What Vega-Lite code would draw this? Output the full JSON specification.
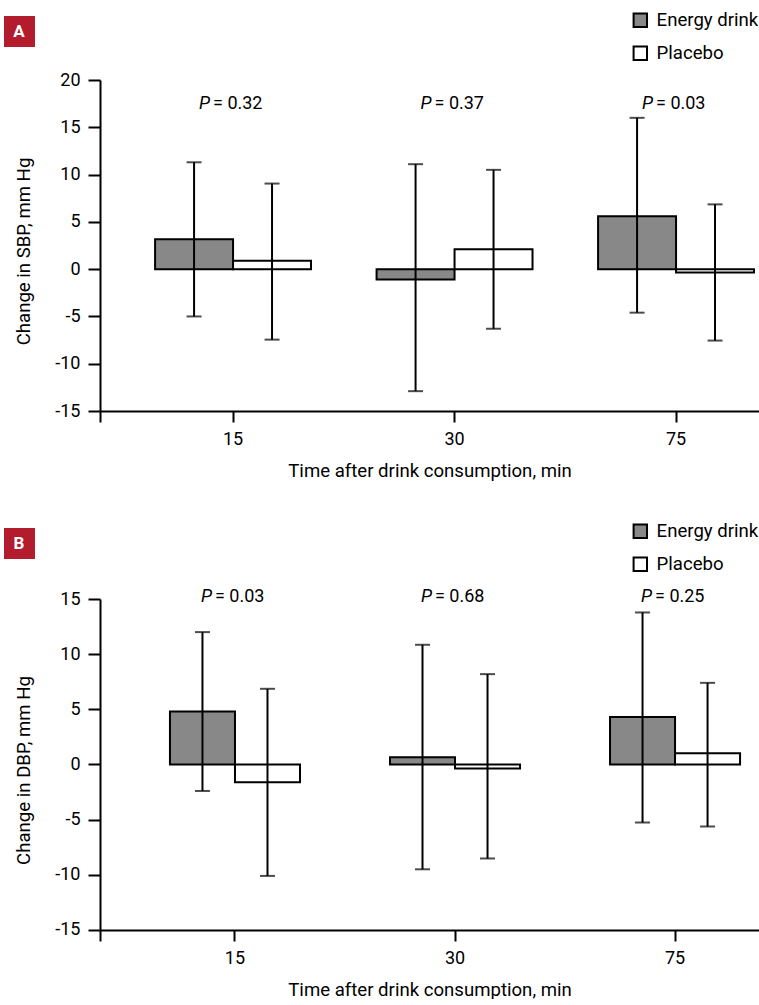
{
  "$schema": "https://vega.github.io/schema/vega-lite/v6.json",
  "padding": {"left": 4, "top": 11, "right": 0, "bottom": 0},
  "bounds": "flush",
  "spacing": 177,
  "datasets": {
    "sbp": [
      {"time": "15", "group": "Energy drink", "mean": 3.15, "lo": -5.0, "hi": 11.3},
      {"time": "15", "group": "Placebo", "mean": 0.88, "lo": -7.45, "hi": 9.05},
      {"time": "30", "group": "Energy drink", "mean": -1.1, "lo": -12.9, "hi": 11.1},
      {"time": "30", "group": "Placebo", "mean": 2.1, "lo": -6.3, "hi": 10.5},
      {"time": "75", "group": "Energy drink", "mean": 5.6, "lo": -4.6, "hi": 16.0},
      {"time": "75", "group": "Placebo", "mean": -0.35, "lo": -7.55, "hi": 6.85}
    ],
    "dbp": [
      {"time": "15", "group": "Energy drink", "mean": 4.8, "lo": -2.4, "hi": 12.0},
      {"time": "15", "group": "Placebo", "mean": -1.6, "lo": -10.1, "hi": 6.86},
      {"time": "30", "group": "Energy drink", "mean": 0.66, "lo": -9.5, "hi": 10.85},
      {"time": "30", "group": "Placebo", "mean": -0.36, "lo": -8.52, "hi": 8.19},
      {"time": "75", "group": "Energy drink", "mean": 4.3, "lo": -5.26, "hi": 13.78},
      {"time": "75", "group": "Placebo", "mean": 1.02, "lo": -5.62, "hi": 7.4}
    ],
    "pA": [
      {"time": "15", "label": "= 0.32"},
      {"time": "30", "label": "= 0.37"},
      {"time": "75", "label": "= 0.03"}
    ],
    "pB": [
      {"time": "15", "label": "= 0.03"},
      {"time": "30", "label": "= 0.68"},
      {"time": "75", "label": "= 0.25"}
    ]
  },
  "vconcat": [
    {
      "width": 659,
      "height": 342,
      "data": {"name": "sbp"},
      "encoding": {
        "x": {
          "field": "time", "type": "nominal", "sort": ["15", "30", "75"],
          "scale": {"paddingInner": 0.296, "paddingOuter": 0.1356, "align": 0.917},
          "axis": {"labelAngle": 0, "tickSize": 11, "labelPadding": 8, "titlePadding": 13, "offset": -11},
          "title": "Time after drink consumption, min"
        }
      },
      "layer": [
        {
          "mark": {"type": "bar", "stroke": "black", "strokeWidth": 2},
          "encoding": {
            "xOffset": {"field": "group", "type": "nominal", "scale": {"paddingInner": 0, "paddingOuter": 0}},
            "y": {"field": "mean", "type": "quantitative", "scale": {"domain": [-16.16, 20], "nice": false, "zero": false},
                  "axis": {"values": [-15, -10, -5, 0, 5, 10, 15, 20], "labelExpr": "'' + datum.value", "tickSize": 12, "labelPadding": 8, "titlePadding": 21},
                  "title": "Change in SBP, mm Hg"},
            "y2": {"datum": 0},
            "fill": {
              "field": "group", "type": "nominal",
              "scale": {"domain": ["Energy drink", "Placebo"], "range": ["#888888", "#ffffff"]},
              "legend": {
                "title": null, "orient": "none", "legendX": 531, "legendY": -69,
                "symbolType": "square", "symbolSize": 180, "symbolStrokeColor": "black", "symbolStrokeWidth": 2,
                "labelOffset": 7, "rowPadding": 10, "padding": 0,
                "encode": {"symbols": {"update": {"stroke": {"value": "black"}, "strokeWidth": {"value": 2}}}}
              }
            }
          }
        },
        {
          "mark": {"type": "rule", "strokeWidth": 2, "color": "black"},
          "encoding": {
            "xOffset": {"field": "group", "type": "nominal", "scale": {"paddingInner": 0, "paddingOuter": 0}},
            "y": {"field": "lo", "type": "quantitative", "scale": {"domain": [-16.16, 20], "nice": false, "zero": false}, "title": "Change in SBP, mm Hg"},
            "y2": {"field": "hi"}
          }
        },
        {
          "mark": {"type": "tick", "size": 15, "thickness": 2, "color": "black"},
          "encoding": {
            "xOffset": {"field": "group", "type": "nominal", "scale": {"paddingInner": 0, "paddingOuter": 0}},
            "y": {"field": "hi", "type": "quantitative", "scale": {"domain": [-16.16, 20], "nice": false, "zero": false}, "title": "Change in SBP, mm Hg"}
          }
        },
        {
          "mark": {"type": "tick", "size": 15, "thickness": 2, "color": "black"},
          "encoding": {
            "xOffset": {"field": "group", "type": "nominal", "scale": {"paddingInner": 0, "paddingOuter": 0}},
            "y": {"field": "lo", "type": "quantitative", "scale": {"domain": [-16.16, 20], "nice": false, "zero": false}, "title": "Change in SBP, mm Hg"}
          }
        },
        {
          "data": {"name": "pA"},
          "mark": {"type": "text", "text": "P", "fontStyle": "italic", "align": "right", "baseline": "middle", "dx": -23},
          "encoding": {
            "y": {"datum": 17.45, "type": "quantitative", "scale": {"domain": [-16.16, 20], "nice": false, "zero": false}, "title": "Change in SBP, mm Hg"}
          }
        },
        {
          "data": {"name": "pA"},
          "mark": {"type": "text", "align": "left", "baseline": "middle", "dx": -20},
          "encoding": {
            "text": {"field": "label"},
            "y": {"datum": 17.45, "type": "quantitative", "scale": {"domain": [-16.16, 20], "nice": false, "zero": false}, "title": "Change in SBP, mm Hg"}
          }
        },
        {
          "mark": {"type": "point", "filled": true, "color": "#B31C2C", "opacity": 0},
          "encoding": {
            "shape": {
              "datum": "A",
              "scale": {"range": ["square"]},
              "legend": {
                "title": null, "orient": "none", "legendX": -96, "legendY": -64,
                "symbolType": "square", "symbolSize": 961, "padding": 0,
                "symbolOpacity": 1, "symbolFillColor": "#B31C2C", "symbolStrokeColor": "#B31C2C", "symbolStrokeWidth": 0,
                "labelFontSize": 17, "labelFontWeight": "bold", "labelColor": "white",
                "labelAlign": "center", "labelOffset": -16
              }
            }
          }
        }
      ]
    },
    {
      "width": 659,
      "height": 342,
      "data": {"name": "dbp"},
      "encoding": {
        "x": {
          "field": "time", "type": "nominal", "sort": ["15", "30", "75"],
          "scale": {"paddingInner": 0.409, "paddingOuter": 0.202, "align": 0.787},
          "axis": {"labelAngle": 0, "tickSize": 11, "labelPadding": 8, "titlePadding": 13, "offset": -11},
          "title": "Time after drink consumption, min"
        }
      },
      "layer": [
        {
          "mark": {"type": "bar", "stroke": "black", "strokeWidth": 2},
          "encoding": {
            "xOffset": {"field": "group", "type": "nominal", "scale": {"paddingInner": 0, "paddingOuter": 0}},
            "y": {"field": "mean", "type": "quantitative", "scale": {"domain": [-16, 15], "nice": false, "zero": false},
                  "axis": {"values": [-15, -10, -5, 0, 5, 10, 15], "labelExpr": "'' + datum.value", "tickSize": 12, "labelPadding": 8, "titlePadding": 21},
                  "title": "Change in DBP, mm Hg"},
            "y2": {"datum": 0},
            "fill": {
              "field": "group", "type": "nominal",
              "scale": {"domain": ["Energy drink", "Placebo"], "range": ["#888888", "#ffffff"]},
              "legend": {
                "title": null, "orient": "none", "legendX": 531, "legendY": -77,
                "symbolType": "square", "symbolSize": 180, "symbolStrokeColor": "black", "symbolStrokeWidth": 2,
                "labelOffset": 7, "rowPadding": 10, "padding": 0,
                "encode": {"symbols": {"update": {"stroke": {"value": "black"}, "strokeWidth": {"value": 2}}}}
              }
            }
          }
        },
        {
          "mark": {"type": "rule", "strokeWidth": 2, "color": "black"},
          "encoding": {
            "xOffset": {"field": "group", "type": "nominal", "scale": {"paddingInner": 0, "paddingOuter": 0}},
            "y": {"field": "lo", "type": "quantitative", "scale": {"domain": [-16, 15], "nice": false, "zero": false}, "title": "Change in DBP, mm Hg"},
            "y2": {"field": "hi"}
          }
        },
        {
          "mark": {"type": "tick", "size": 15, "thickness": 2, "color": "black"},
          "encoding": {
            "xOffset": {"field": "group", "type": "nominal", "scale": {"paddingInner": 0, "paddingOuter": 0}},
            "y": {"field": "hi", "type": "quantitative", "scale": {"domain": [-16, 15], "nice": false, "zero": false}, "title": "Change in DBP, mm Hg"}
          }
        },
        {
          "mark": {"type": "tick", "size": 15, "thickness": 2, "color": "black"},
          "encoding": {
            "xOffset": {"field": "group", "type": "nominal", "scale": {"paddingInner": 0, "paddingOuter": 0}},
            "y": {"field": "lo", "type": "quantitative", "scale": {"domain": [-16, 15], "nice": false, "zero": false}, "title": "Change in DBP, mm Hg"}
          }
        },
        {
          "data": {"name": "pB"},
          "mark": {"type": "text", "text": "P", "fontStyle": "italic", "align": "right", "baseline": "middle", "dx": -23},
          "encoding": {
            "y": {"datum": 15.14, "type": "quantitative", "scale": {"domain": [-16, 15], "nice": false, "zero": false}, "title": "Change in DBP, mm Hg"}
          }
        },
        {
          "data": {"name": "pB"},
          "mark": {"type": "text", "align": "left", "baseline": "middle", "dx": -20},
          "encoding": {
            "text": {"field": "label"},
            "y": {"datum": 15.14, "type": "quantitative", "scale": {"domain": [-16, 15], "nice": false, "zero": false}, "title": "Change in DBP, mm Hg"}
          }
        },
        {
          "mark": {"type": "point", "filled": true, "color": "#B31C2C", "opacity": 0},
          "encoding": {
            "shape": {
              "datum": "B",
              "scale": {"range": ["square"]},
              "legend": {
                "title": null, "orient": "none", "legendX": -96, "legendY": -71,
                "symbolType": "square", "symbolSize": 961, "padding": 0,
                "symbolOpacity": 1, "symbolFillColor": "#B31C2C", "symbolStrokeColor": "#B31C2C", "symbolStrokeWidth": 0,
                "labelFontSize": 17, "labelFontWeight": "bold", "labelColor": "white",
                "labelAlign": "center", "labelOffset": -16
              }
            }
          }
        }
      ]
    }
  ],
  "resolve": {
    "scale": {"fill": "independent", "shape": "independent", "x": "independent", "y": "independent", "xOffset": "independent"},
    "legend": {"fill": "independent", "shape": "independent"}
  },
  "config": {
    "font": "Roboto",
    "view": {"stroke": null},
    "axis": {
      "domainColor": "black", "domainWidth": 2, "tickColor": "black", "tickWidth": 2,
      "labelColor": "black", "titleColor": "black", "labelFont": "Roboto", "titleFont": "Roboto",
      "labelFontSize": 18, "titleFontSize": 18.6, "titleFontWeight": "normal", "grid": false
    },
    "legend": {"labelFont": "Roboto", "labelFontSize": 18.6, "labelColor": "black"},
    "text": {"font": "Roboto", "fontSize": 18, "color": "black"}
  }
}
